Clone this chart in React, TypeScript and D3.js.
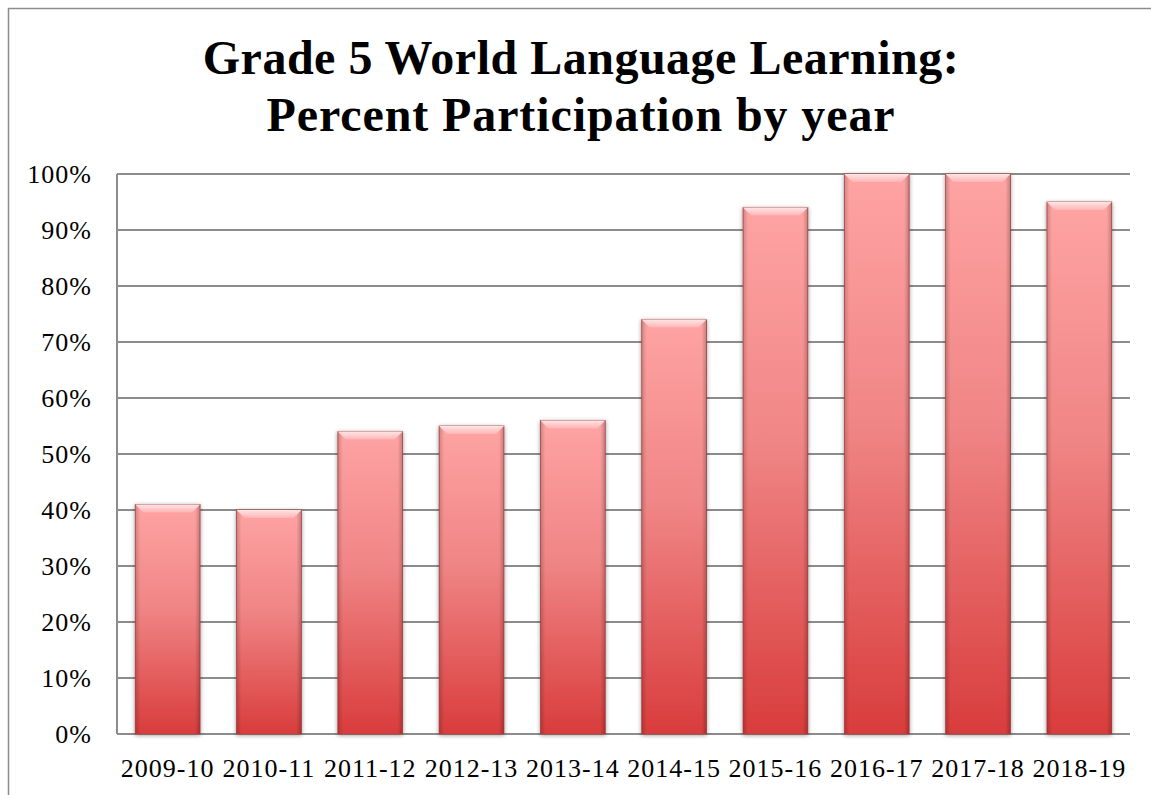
import React from "react";
import * as d3 from "d3";

const categories = ["2009-10", "2010-11", "2011-12", "2012-13", "2013-14", "2014-15", "2015-16", "2016-17", "2017-18", "2018-19"];
const values = [41, 40, 54, 55, 56, 74, 94, 100, 100, 95];
const yTicks = [0, 10, 20, 30, 40, 50, 60, 70, 80, 90, 100];
const titleLines = ["Grade 5 World Language Learning:", "Percent Participation by year"];

export default function App() {
  const W = 1151, H = 795;
  const left = 117, right = 1130, top = 174, bottom = 734;
  const x = d3.scaleBand<string>().domain(categories).range([left, right]).paddingInner(0.36).paddingOuter(0.18);
  const y = d3.scaleLinear().domain([0, 100]).range([bottom, top]);
  const font = "'Liberation Serif', 'DejaVu Serif', serif";
  const bev = 8;
  return (
    <svg width={W} height={H} style={{ position: "absolute", left: 0, top: 0 }}>
      <defs>
        <linearGradient id="barG" x1="0" y1="0" x2="0" y2="1">
          <stop offset="0" stopColor="#ffa3a3" />
          <stop offset="0.45" stopColor="#f08585" />
          <stop offset="1" stopColor="#d93c3c" />
        </linearGradient>
        <linearGradient id="bevG" x1="0" y1="0" x2="0" y2="1">
          <stop offset="0" stopColor="#ffe6e6" />
          <stop offset="1" stopColor="#ffb3b3" />
        </linearGradient>
        <linearGradient id="sideL" x1="0" y1="0" x2="1" y2="0">
          <stop offset="0" stopColor="#000" stopOpacity="0.18" />
          <stop offset="1" stopColor="#000" stopOpacity="0" />
        </linearGradient>
        <linearGradient id="sideR" x1="1" y1="0" x2="0" y2="0">
          <stop offset="0" stopColor="#000" stopOpacity="0.22" />
          <stop offset="1" stopColor="#000" stopOpacity="0" />
        </linearGradient>
        <filter id="shadow" x="-20%" y="-5%" width="140%" height="110%">
          <feGaussianBlur in="SourceAlpha" stdDeviation="2" />
          <feOffset dx="0" dy="1" result="b" />
          <feComponentTransfer><feFuncA type="linear" slope="0.4" /></feComponentTransfer>
          <feMerge><feMergeNode /><feMergeNode in="SourceGraphic" /></feMerge>
        </filter>
      </defs>
      <rect x={0} y={0} width={W} height={H} fill="#fff" />
      <path d={`M8.5,${H} V8.5 H${W}`} fill="none" stroke="#8c8c8c" strokeWidth={1.5} />
      {titleLines.map((t, i) => (
        <text key={i} x={581} y={74 + i * 57} textAnchor="middle" fontFamily={font} fontWeight="bold" fontSize={48} letterSpacing={i === 0 ? 0.5 : 0.9} fill="#000">{t}</text>
      ))}
      {yTicks.map((t) => (
        <g key={t}>
          <line x1={left} x2={right} y1={y(t)} y2={y(t)} stroke="#8c8c8c" strokeWidth={2} />
          <text x={92} y={y(t)} dy="0.33em" textAnchor="end" fontFamily={font} fontSize={26} letterSpacing={1} fill="#000">{t}%</text>
        </g>
      ))}
      <line x1={left} x2={left} y1={top} y2={bottom} stroke="#8c8c8c" strokeWidth={2} />
      {categories.map((c, i) => {
        const bx = x(c)!, bw = x.bandwidth(), by = y(values[i]), bh = bottom - by;
        return (
          <g key={c} filter="url(#shadow)">
            <rect x={bx} y={by} width={bw} height={bh} fill="url(#barG)" stroke="#b04848" strokeWidth={0.8} />
            <rect x={bx} y={by} width={5} height={bh} fill="url(#sideL)" />
            <rect x={bx + bw - 5} y={by} width={5} height={bh} fill="url(#sideR)" />
            <path d={`M${bx},${by} H${bx + bw} L${bx + bw - bev},${by + bev} H${bx + bev} Z`} fill="url(#bevG)" />
          </g>
        );
      })}
      {categories.map((c) => (
        <text key={c} x={x(c)! + x.bandwidth() / 2} y={777} textAnchor="middle" fontFamily={font} fontSize={26} letterSpacing={1} fill="#000">{c}</text>
      ))}
    </svg>
  );
}
